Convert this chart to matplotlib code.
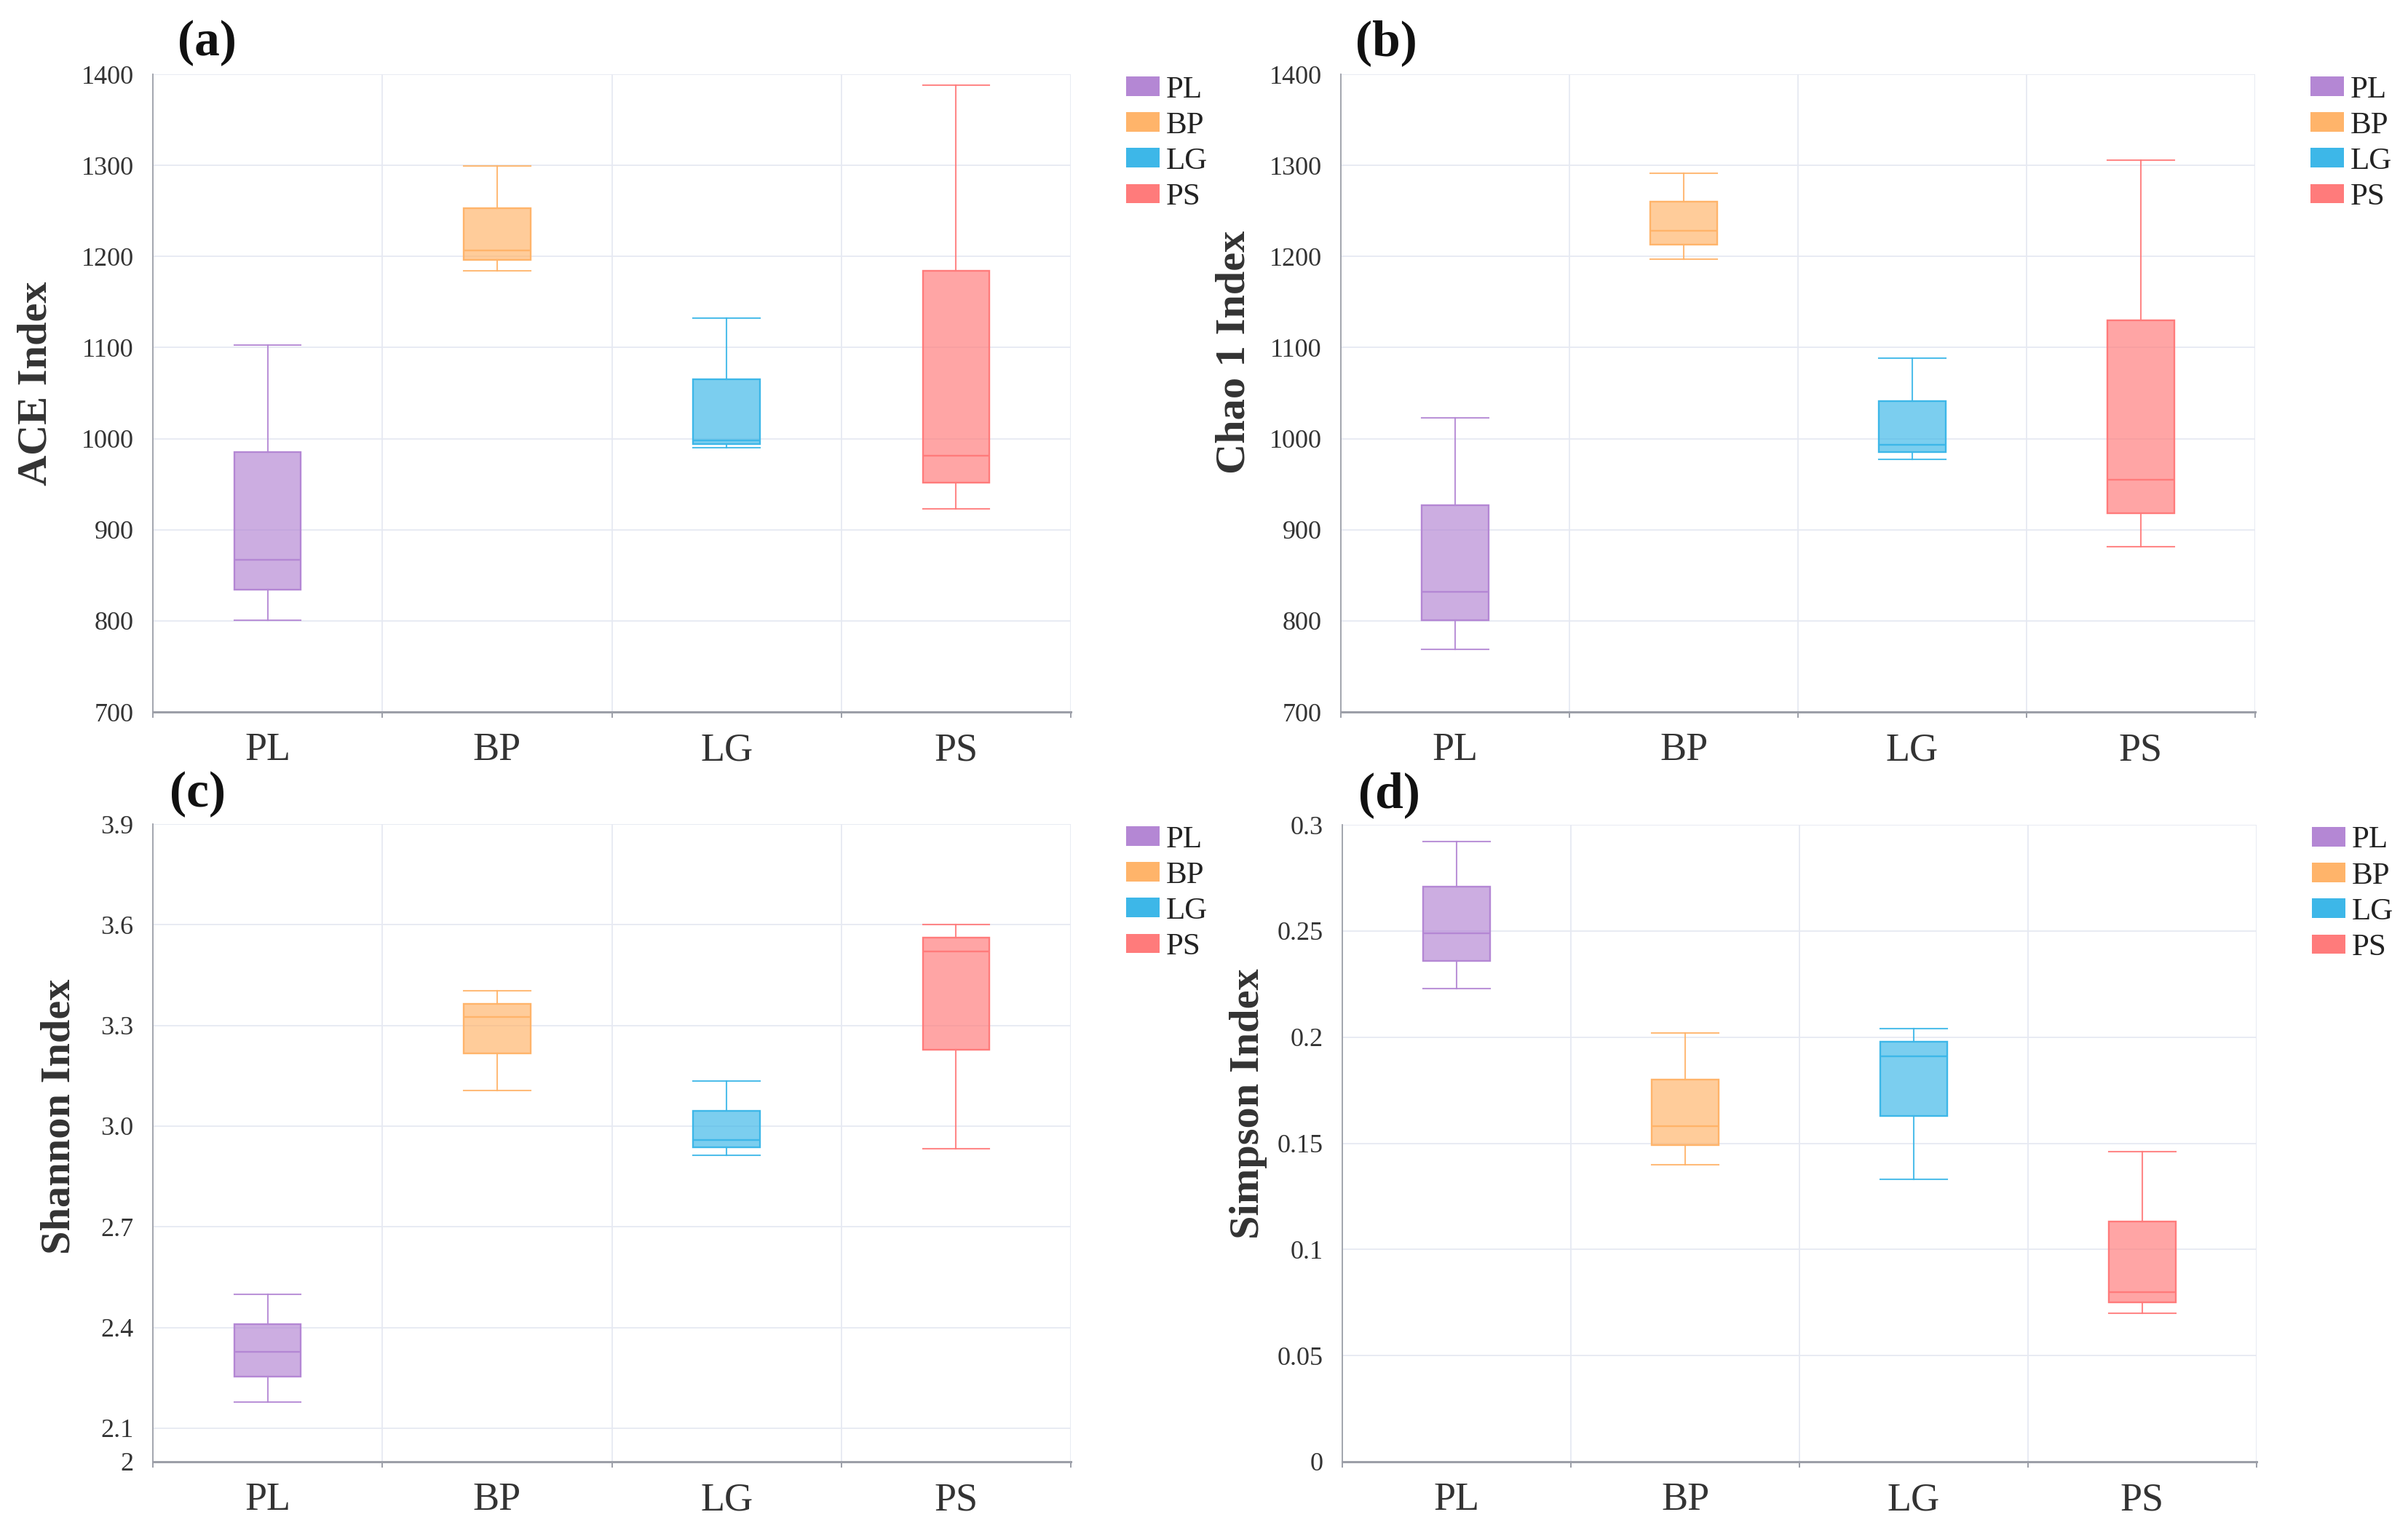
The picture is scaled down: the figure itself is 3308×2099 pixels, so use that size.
import matplotlib
matplotlib.use("Agg")
import matplotlib.pyplot as plt
from matplotlib.patches import Patch
from matplotlib.ticker import FixedLocator, NullFormatter

plt.rcParams["font.family"] = ["Liberation Serif", "DejaVu Serif"]

# ── data ─────────────────────────────────────────────────────────────────────
groups = ["PL", "BP", "LG", "PS"]
colors = ["#b487d4", "#ffb46a", "#3db7e8", "#ff7b7b"]

# each list: PL, BP, LG, PS
ace_min = [801, 1184, 990, 923]
ace_q1 = [834, 1196, 994, 952]
ace_med = [867, 1207, 998, 981]
ace_q3 = [985, 1253, 1065, 1184]
ace_max = [1103, 1299, 1132, 1388]

chao_min = [769, 1197, 977, 881]
chao_q1 = [801, 1213, 985, 918]
chao_med = [832, 1228, 993, 955]
chao_q3 = [927, 1260, 1041, 1130]
chao_max = [1023, 1291, 1088, 1306]

shan_min = [2.178, 3.107, 2.913, 2.933]
shan_q1 = [2.253, 3.216, 2.936, 3.227]
shan_med = [2.327, 3.325, 2.959, 3.520]
shan_q3 = [2.411, 3.365, 3.045, 3.561]
shan_max = [2.498, 3.404, 3.134, 3.601]

simp_min = [0.223, 0.140, 0.133, 0.070]
simp_q1 = [0.236, 0.149, 0.163, 0.075]
simp_med = [0.249, 0.158, 0.191, 0.080]
simp_q3 = [0.271, 0.180, 0.198, 0.113]
simp_max = [0.292, 0.202, 0.204, 0.146]

rich_ticks = [700, 800, 900, 1000, 1100, 1200, 1300, 1400]
rich_labels = [str(t) for t in rich_ticks]
shan_ticks = [2.0, 2.1, 2.4, 2.7, 3.0, 3.3, 3.6, 3.9]
shan_labels = ["2", "2.1", "2.4", "2.7", "3.0", "3.3", "3.6", "3.9"]
simp_ticks = [0, 0.05, 0.1, 0.15, 0.2, 0.25, 0.3]
simp_labels = ["0", "0.05", "0.1", "0.15", "0.2", "0.25", "0.3"]

W, H = 3308, 2099
GRID = "#e6e9f2"
SPINE = "#9c9fa8"


def px_rect(l, t, r, b):
    return [l / W, 1 - b / H, (r - l) / W, (b - t) / H]


def panel(rect, stats, ticks, labels, ylabel, ylab_xy, tag, tag_xy):
    lo, q1, med, q3, hi = stats
    ax = fig.add_axes(px_rect(*rect))
    bx = [dict(whislo=lo[i], q1=q1[i], med=med[i], q3=q3[i], whishi=hi[i],
               fliers=[]) for i in range(len(groups))]
    art = ax.bxp(bx, positions=range(1, len(groups) + 1), widths=0.29,
                 capwidths=0.29, patch_artist=True, showfliers=False,
                 manage_ticks=False)
    for i, c in enumerate(colors):
        art["boxes"][i].set(edgecolor=c, lw=1.7)
        art["boxes"][i].set_facecolor(matplotlib.colors.to_rgba(c, 0.68))
        art["medians"][i].set(color=c, lw=1.7)
        for ln in art["whiskers"][2 * i:2 * i + 2] + art["caps"][2 * i:2 * i + 2]:
            ln.set(color=c, lw=1.5, alpha=0.9)

    ax.set_xlim(0.5, 4.5)
    ax.set_ylim(ticks[0], ticks[-1])
    ax.set_yticks(ticks)
    ax.set_yticklabels(labels)
    ax.tick_params(axis="y", length=0, pad=19, labelsize=26, labelcolor="#333333")

    ax.xaxis.set_major_locator(FixedLocator([0.5, 1.5, 2.5, 3.5, 4.5]))
    ax.xaxis.set_major_formatter(NullFormatter())
    ax.xaxis.set_minor_locator(FixedLocator([1, 2, 3, 4]))
    ax.set_xticklabels(groups, minor=True)
    ax.tick_params(axis="x", which="major", length=6, width=1.4, color=SPINE)
    ax.tick_params(axis="x", which="minor", length=0, pad=20, labelsize=39,
                   labelcolor="#333333")

    ax.grid(True, which="major", color=GRID, lw=1.3, zorder=0)
    ax.set_axisbelow(True)
    for s in ("top", "right"):
        ax.spines[s].set_visible(False)
    ax.spines["left"].set(color=SPINE, lw=1.3)
    ax.spines["bottom"].set(color=SPINE, lw=2.2)

    handles = [Patch(facecolor=c, edgecolor="none") for c in colors]
    axw = rect[2] - rect[0]
    axh = rect[3] - rect[1]
    ax.legend(handles, groups, loc="upper left", frameon=False,
              bbox_to_anchor=(1 + 76 / axw, 1 - 2 / axh), borderpad=0,
              borderaxespad=0, fontsize=31, handlelength=1.07,
              handleheight=0.58, handletextpad=0.2, labelspacing=0.25,
              labelcolor="#222222")

    fig.text(ylab_xy[0] / W, 1 - ylab_xy[1] / H, ylabel, rotation=90,
             ha="center", va="center", fontsize=42, fontweight="bold",
             color="#333333")
    fig.text(tag_xy[0] / W, 1 - tag_xy[1] / H, tag, ha="center", va="center",
             fontsize=50, fontweight="bold", color="#111111")
    return ax


fig = plt.figure(figsize=(W / 100, H / 100), dpi=100)
fig.patch.set_facecolor("white")

panel((210, 102, 1471, 978),
      (ace_min, ace_q1, ace_med, ace_q3, ace_max),
      rich_ticks, rich_labels, "ACE Index", (50, 527), "(a)", (284, 59))
panel((1842, 102, 3098, 978),
      (chao_min, chao_q1, chao_med, chao_q3, chao_max),
      rich_ticks, rich_labels, "Chao 1 Index", (1696, 484), "(b)", (1904, 59))
panel((210, 1132, 1471, 2008),
      (shan_min, shan_q1, shan_med, shan_q3, shan_max),
      shan_ticks, shan_labels, "Shannon Index", (82, 1534), "(c)", (272, 1091))
panel((1844, 1133, 3100, 2008),
      (simp_min, simp_q1, simp_med, simp_q3, simp_max),
      simp_ticks, simp_labels, "Simpson Index", (1715, 1516), "(d)", (1908, 1092))

fig.savefig("out.png", dpi=100, facecolor="white")
